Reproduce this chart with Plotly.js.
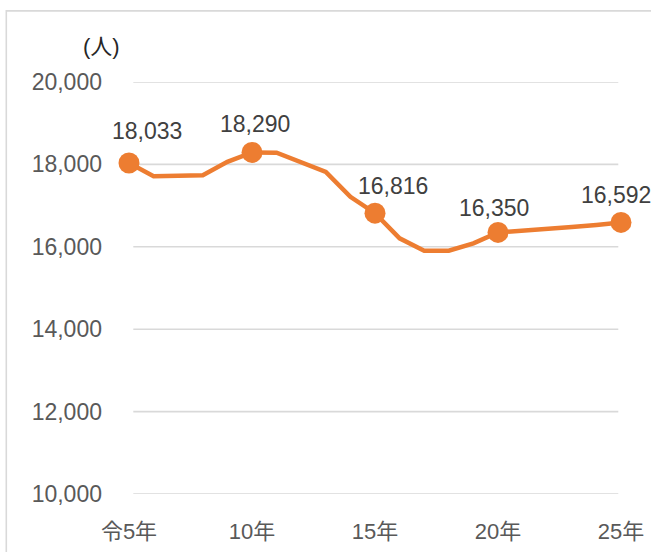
<!DOCTYPE html>
<html>
<head>
<meta charset="utf-8">
<script src="https://cdn.plot.ly/plotly-3.0.1.min.js"></script>
<style>
  html, body { margin: 0; padding: 0; background: #ffffff; }
  #chart { width: 651px; height: 552px; }
</style>
</head>
<body>
<div id="chart"></div>
<script>
// ---- data ----
const years = [5, 6, 7, 8, 9, 10, 11, 12, 13, 14, 15, 16, 17, 18, 19, 20, 21, 22, 23, 24, 25];
const population = [18033, 17715, 17727, 17739, 18061, 18290, 18285, 18061, 17819, 17213, 16816,
                    16205, 15904, 15904, 16083, 16350, 16385, 16430, 16478, 16530, 16592];
const labelYears = [5, 10, 15, 20, 25];
const labelValues = [18033, 18290, 16816, 16350, 16592];
const tickVals = [5, 10, 15, 20, 25];
const tickText = ['令5年', '10年', '15年', '20年', '25年'];
const yTickVals = [10000, 12000, 14000, 16000, 18000, 20000];
const yTickText = ['10,000', '12,000', '14,000', '16,000', '18,000', '20,000'];
const unitLabel = '(人)';

// ---- style ----
const FONT = '"Liberation Sans", Arial, "Noto Sans CJK JP", sans-serif';
const ORANGE = '#ED7D31';
const labelXShift = [18, 3, 18, -4, -5];
const labelYShift = [32, 28, 27, 24, 27];

const fmt = v => v.toLocaleString('en-US');

// plot area in pixels
const L = 128.7, R = 620.7, T = 81.7, B = 494.3;
const W = 651, H = 552;
const px2x = p => (p - L) / (R - L);
const px2y = p => (B - p) / (B - T);

const lineTrace = {
  x: years,
  y: population,
  type: 'scatter',
  mode: 'lines',
  line: { color: ORANGE, width: 4.5 },
  hoverinfo: 'skip',
  cliponaxis: false
};
const markerTrace = {
  x: labelYears,
  y: labelValues,
  type: 'scatter',
  mode: 'markers',
  marker: { color: ORANGE, size: 21, line: { width: 0 } },
  cliponaxis: false
};

const annotations = labelYears.map((yr, i) => ({
  x: yr, y: labelValues[i], xref: 'x', yref: 'y',
  text: fmt(labelValues[i]), showarrow: false,
  xanchor: 'center', yanchor: 'middle',
  xshift: labelXShift[i], yshift: labelYShift[i],
  font: { family: FONT, size: 23, color: '#404040' }
}));
annotations.push({
  x: px2x(101), y: px2y(46), xref: 'paper', yref: 'paper',
  text: unitLabel, showarrow: false, xanchor: 'center', yanchor: 'middle',
  font: { family: FONT, size: 22, color: '#262626' }
});

const gridShapes = yTickVals.map(v => ({
  type: 'line', xref: 'paper', yref: 'y', layer: 'below',
  x0: px2x(133), x1: px2x(618), y0: v, y1: v,
  line: { color: '#d9d9d9', width: 1.6 }
}));

const layout = {
  width: W, height: H,
  margin: { l: L, r: W - R, t: T, b: H - B, pad: 0 },
  paper_bgcolor: '#ffffff',
  plot_bgcolor: 'rgba(0,0,0,0)',
  showlegend: false,
  xaxis: {
    range: [5, 25],
    tickmode: 'array', tickvals: tickVals, ticktext: tickText,
    showgrid: false, zeroline: false, showline: false, ticks: '',
    ticklabelstandoff: 22,
    tickfont: { family: FONT, size: 22, color: '#595959' },
    fixedrange: true
  },
  yaxis: {
    range: [10000, 20000],
    tickmode: 'array', tickvals: yTickVals, ticktext: yTickText,
    showgrid: false, zeroline: false, showline: false, ticks: '',
    ticklabelstandoff: 26,
    tickfont: { family: FONT, size: 23, color: '#595959' },
    fixedrange: true
  },
  shapes: [{
    type: 'rect', xref: 'paper', yref: 'paper', layer: 'below',
    x0: px2x(6), x1: px2x(700), y0: px2y(600), y1: px2y(10.5),
    line: { color: '#d9d9d9', width: 1.6 }, fillcolor: 'rgba(0,0,0,0)'
  }].concat(gridShapes),
  annotations: annotations
};

Plotly.newPlot('chart', [lineTrace, markerTrace], layout, { displayModeBar: false, staticPlot: true });
</script>
</body>
</html>
